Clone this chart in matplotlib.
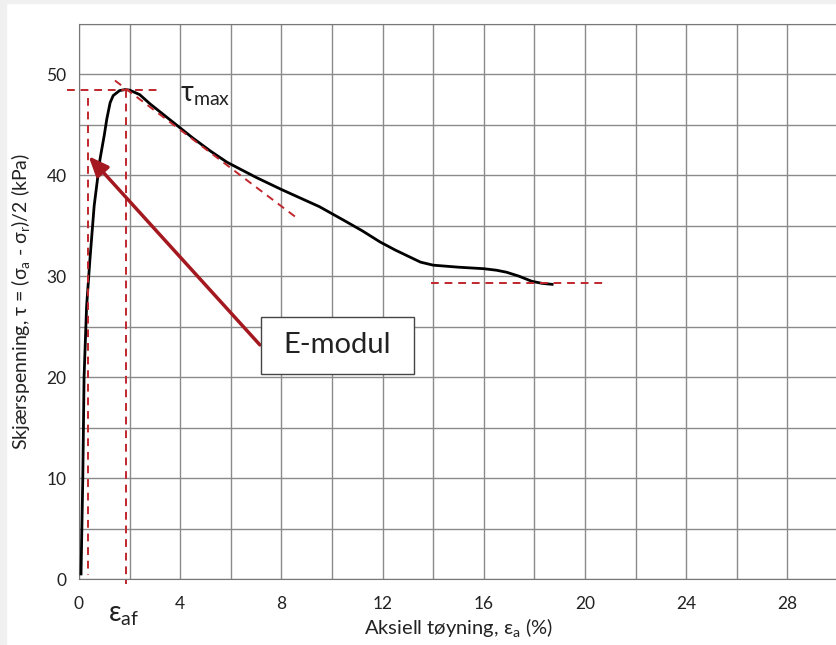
import matplotlib.pyplot as plt
import matplotlib.patches as mpatches
import numpy as np

plt.rcParams['font.family'] = ['Lato', 'DejaVu Sans']
plt.rcParams['mathtext.fontset'] = 'custom'
plt.rcParams['mathtext.rm'] = 'Lato'
plt.rcParams['mathtext.it'] = 'Lato'

# strain (%) and shear stress (kPa)
strain = [0.08, 0.15, 0.2, 0.3, 0.43, 0.6, 0.83, 1.0, 1.1, 1.23, 1.35, 1.6, 1.82, 2.0, 2.4,
          2.8, 3.2, 3.6, 4.5, 5.2, 5.85, 7.0, 8.0, 9.5, 10.5, 11.2, 11.9, 12.5, 13.0, 13.5,
          14.0, 15.0, 16.0, 16.5, 16.9, 17.4, 17.9, 18.3, 18.7]
stress = [0.5, 10, 20, 27, 31.6, 37, 41.6, 44, 45.6, 47.2, 47.9, 48.4, 48.5, 48.45, 48.0,
          47.1, 46.3, 45.5, 43.7, 42.4, 41.3, 39.8, 38.6, 36.9, 35.5, 34.5, 33.4, 32.6, 32.0, 31.4,
          31.1, 30.9, 30.75, 30.6, 30.4, 30.0, 29.5, 29.3, 29.2]

tau_max = 48.5
eps_af = 1.85
tau_res = 29.3
x_ticks = [0, 4, 8, 12, 16, 20, 24, 28]
y_ticks = [0, 10, 20, 30, 40, 50]

red = '#c0272d'
dark_red = '#a3191f'

fig = plt.figure(figsize=(8.37, 6.45), dpi=100)
fig.patches.append(mpatches.Rectangle((0, 0), 6 / 837, 1, transform=fig.transFigure,
                                      color='#f0f0f0', zorder=0))
fig.patches.append(mpatches.Rectangle((0, 1 - 3 / 645), 1, 3 / 645, transform=fig.transFigure,
                                      color='#f0f0f0', zorder=0))
ax = fig.add_axes([79 / 837, 1 - 579 / 645, 759 / 837, 555 / 645])
ax.set_xlim(0, 30)
ax.set_ylim(0, 55)

ax.set_xticks(np.arange(0, 31, 2), minor=True)
ax.set_yticks(np.arange(0, 56, 5), minor=True)
ax.set_xticks(x_ticks)
ax.set_yticks(y_ticks)
ax.grid(True, which='both', color='#8a8a8a', lw=1)
ax.tick_params(which='both', length=0, labelsize=12.5, colors='#222222')
ax.tick_params(axis='x', pad=12)
ax.tick_params(axis='y', pad=9)
for s in ax.spines.values():
    s.set_color('#777777')
ax.set_axisbelow(True)

ax.plot(strain, stress, color='black', lw=2, zorder=5, solid_joinstyle='round')

dash = dict(color=red, lw=1.4, ls=(0, (4, 3)), zorder=6, clip_on=False)
ax.plot([-0.47, 3.2], [tau_max, tau_max], **dash)
ax.plot([eps_af, eps_af], [tau_max, -0.5], **dash)
ax.plot([0.37, 0.37], [47.7, 0.4], **dash)
ax.plot([1.42, 8.6], [49.4, 35.8], **dash)
ax.plot([13.9, 20.9], [tau_res, tau_res], **dash)

ax.annotate('', xy=(0.38, 41.9), xytext=(7.15, 23.2),
            arrowprops=dict(arrowstyle='-|>,head_length=1.2,head_width=0.5',
                            color=dark_red, lw=2.5, shrinkA=0, shrinkB=0), zorder=7)

ax.add_patch(mpatches.Rectangle((7.19, 20.3), 6.05, 5.7, facecolor='white',
                                edgecolor='#444444', lw=1, zorder=8))
ax.text(10.2, 23.15, 'E-modul', fontsize=21, ha='center', va='center',
        color='#222222', zorder=9)

ax.text(4.0, 48.0, r'τ$_{\mathrm{max}}$', fontsize=20, ha='left', va='center', color='#222222')
ax.text(1.15, -3.6, r'ε$_{\mathrm{af}}$', fontsize=20, ha='left', va='center',
        color='#222222', clip_on=False)

ax.set_xlabel(r'Aksiell tøyning, ε$_{\mathrm{a}}$ (%)', fontsize=14.5, color='#222222', labelpad=3)
ax.set_ylabel(r'Skjærspenning, τ = (σ$_{\mathrm{a}}$ - σ$_{\mathrm{r}}$)/2 (kPa)', fontsize=14,
              color='#222222', labelpad=10)

fig.savefig('out.png', dpi=100)
